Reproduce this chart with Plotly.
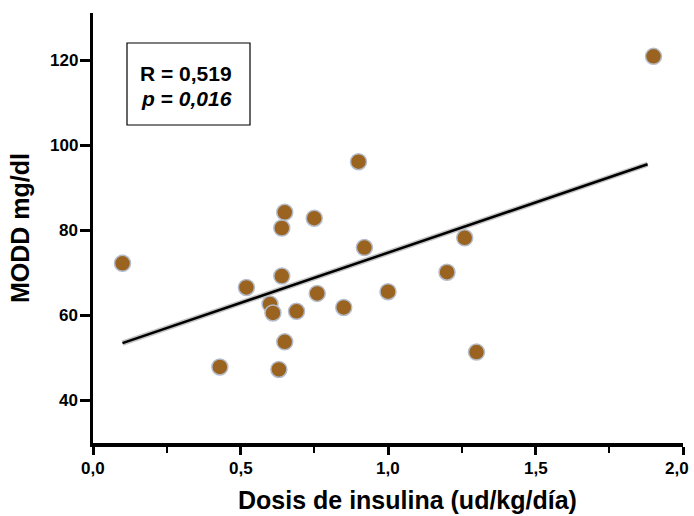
import plotly.graph_objects as go

dose = [0.10, 0.43, 0.52, 0.60, 0.61, 0.63, 0.64, 0.65, 0.64, 0.65, 0.69, 0.75, 0.76,
        0.85, 0.90, 0.92, 1.00, 1.20, 1.26, 1.30, 1.90]
modd = [72.3, 47.9, 66.6, 62.7, 60.6, 47.3, 69.3, 53.8, 80.6, 84.3, 61.0, 82.9, 65.2,
        61.9, 96.2, 76.0, 65.6, 70.2, 78.3, 51.4, 121.0]
fit_x = [0.10, 1.88]
fit_y = [53.5, 95.6]
x_ticks = [0.0, 0.5, 1.0, 1.5, 2.0]
x_labels = ["0,0", "0,5", "1,0", "1,5", "2,0"]
y_ticks = [40, 60, 80, 100, 120]
y_labels = ["40", "60", "80", "100", "120"]

FONT = "Liberation Sans, Arial, sans-serif"
L, R, T, B = 93, 11, 13, 73
PW, PH = 694 - L - R, 516 - T - B


def px(xp):
    return (xp - L) / PW


def py(yp):
    return (516 - B - yp) / PH


fig = go.Figure()
fig.add_trace(go.Scatter(x=fit_x, y=fit_y, mode="lines",
                         line=dict(color="#c4c4c4", width=5.5), hoverinfo="skip"))
fig.add_trace(go.Scatter(x=fit_x, y=fit_y, mode="lines",
                         line=dict(color="black", width=2.5), hoverinfo="skip"))
fig.add_trace(go.Scatter(x=dose, y=modd, mode="markers",
                         marker=dict(size=16, color="#9a6320",
                                     line=dict(color="#b4bccb", width=1.5))))

fig.add_shape(type="rect", xref="paper", yref="paper",
              x0=px(127), x1=px(250), y0=py(125), y1=py(43),
              line=dict(color="black", width=1.2), fillcolor="white", layer="below")
fig.add_annotation(xref="paper", yref="paper", x=px(186), y=py(73),
                   xanchor="center", yanchor="middle", showarrow=False,
                   text="<b>R = 0,519</b>",
                   font=dict(family=FONT, size=21, color="black"))
fig.add_annotation(xref="paper", yref="paper", x=px(186), y=py(98),
                   xanchor="center", yanchor="middle", showarrow=False,
                   text="<b><i>p</i> = <i>0,016</i></b>",
                   font=dict(family=FONT, size=21, color="black"))
fig.add_annotation(xref="paper", yref="paper", x=px(407), y=py(500),
                   xanchor="center", yanchor="middle", showarrow=False,
                   text="<b>Dosis de insulina (ud/kg/día)</b>",
                   font=dict(family=FONT, size=25, color="black"))

for i, (v, s) in enumerate(zip(x_ticks, x_labels)):
    last = i == len(x_ticks) - 1
    fig.add_annotation(xref="x", yref="paper", x=v, y=py(468),
                       xanchor="right" if last else "center", yanchor="middle",
                       xshift=8 if last else 0,
                       showarrow=False, text="<b>%s</b>" % s,
                       font=dict(family=FONT, size=17, color="black"))
for v, s in zip(y_ticks, y_labels):
    fig.add_annotation(xref="paper", yref="y", x=px(80), y=v,
                       xanchor="right", yanchor="middle", showarrow=False,
                       text="<b>%s</b>" % s,
                       font=dict(family=FONT, size=17, color="black"))

fig.update_layout(
    width=694, height=516,
    margin=dict(l=L, r=R, t=T, b=B),
    paper_bgcolor="white", plot_bgcolor="white",
    showlegend=False,
    font=dict(family=FONT, color="black"),
    xaxis=dict(range=[0, 2.0], tickvals=x_ticks, showticklabels=False,
               automargin=False,
               showline=True, linecolor="black", linewidth=4,
               ticks="outside", ticklen=8, tickwidth=3, tickcolor="black",
               minor=dict(tickvals=[0.25, 0.75, 1.25, 1.75], ticks="outside",
                          ticklen=6, tickwidth=2, tickcolor="black"),
               showgrid=False, zeroline=False),
    yaxis=dict(range=[30, 131.2], tickvals=y_ticks, showticklabels=False,
               automargin=False,
               showline=True, linecolor="black", linewidth=3,
               ticks="outside", ticklen=10, tickwidth=3, tickcolor="black",
               showgrid=False, zeroline=False,
               title=dict(text="<b>MODD mg/dl</b>", standoff=44,
                          font=dict(family=FONT, size=25, color="black"))),
)

fig.write_html("out.html")
